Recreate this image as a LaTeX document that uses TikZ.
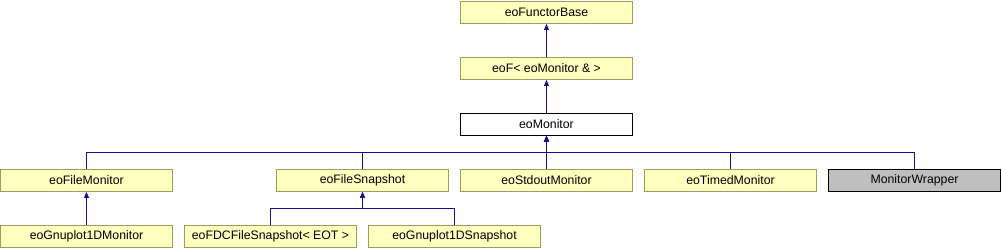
\documentclass[tikz,border=0pt]{standalone}
\usepackage{fontspec}
\setmainfont{Liberation Sans}
\usetikzlibrary{arrows.meta}
\definecolor{boxfill}{RGB}{255,255,192}
\definecolor{boxline}{RGB}{156,156,90}
\definecolor{edgecol}{RGB}{16,16,140}
\definecolor{grayfill}{RGB}{191,191,191}
\tikzset{
  cls/.style={draw=boxline, fill=boxfill, line width=1pt, minimum width=172pt, minimum height=22pt, inner sep=0pt, font=\fontsize{12.3}{13}\selectfont},
  clsw/.style={cls, draw=black, fill=white},
  clsg/.style={cls, draw=black, fill=grayfill, line width=1.3pt},
  inh/.style={draw=edgecol, line width=1pt, -{Triangle[length=6pt,width=5pt]}},
}
\begin{document}
\begin{tikzpicture}[x=1pt,y=-1pt]
\useasboundingbox (0,0) rectangle (1002,248);
\node[cls] (base) at (546.5,12.5) {eoFunctorBase};
\node[cls] (eof) at (546.5,68.5) {eoF< eoMonitor \& >};
\node[clsw] (mon) at (546.5,124.5) {eoMonitor};
\node[cls] (fmon) at (86.5,180.5) {eoFileMonitor};
\node[cls] (fsnap) at (362.5,180.5) {eoFileSnapshot};
\node[cls] (std) at (546.5,180.5) {eoStdoutMonitor};
\node[cls] (timed) at (730.5,180.5) {eoTimedMonitor};
\node[clsg] (wrap) at (914.5,180.5) {MonitorWrapper};
\node[cls] (gmon) at (86.5,236.5) {eoGnuplot1DMonitor};
\node[cls] (fdc) at (270.5,236.5) {eoFDCFileSnapshot< EOT >};
\node[cls] (gsnap) at (454.5,236.5) {eoGnuplot1DSnapshot};
\coordinate (bus1) at (0,152.5);
\coordinate (bus2) at (0,208.5);
\draw[inh] (eof.north) -- (base.south);
\draw[inh] (mon.north) -- (eof.south);
\draw[inh] (std.north) -- (mon.south);
\foreach \c in {fmon,fsnap,timed,wrap}{
  \draw[inh] (\c.north) -- (\c.north |- bus1) -| (mon.south);
}
\draw[inh] (gmon.north) -- (fmon.south);
\foreach \c in {fdc,gsnap}{
  \draw[inh] (\c.north) -- (\c.north |- bus2) -| (fsnap.south);
}
\end{tikzpicture}
\end{document}
